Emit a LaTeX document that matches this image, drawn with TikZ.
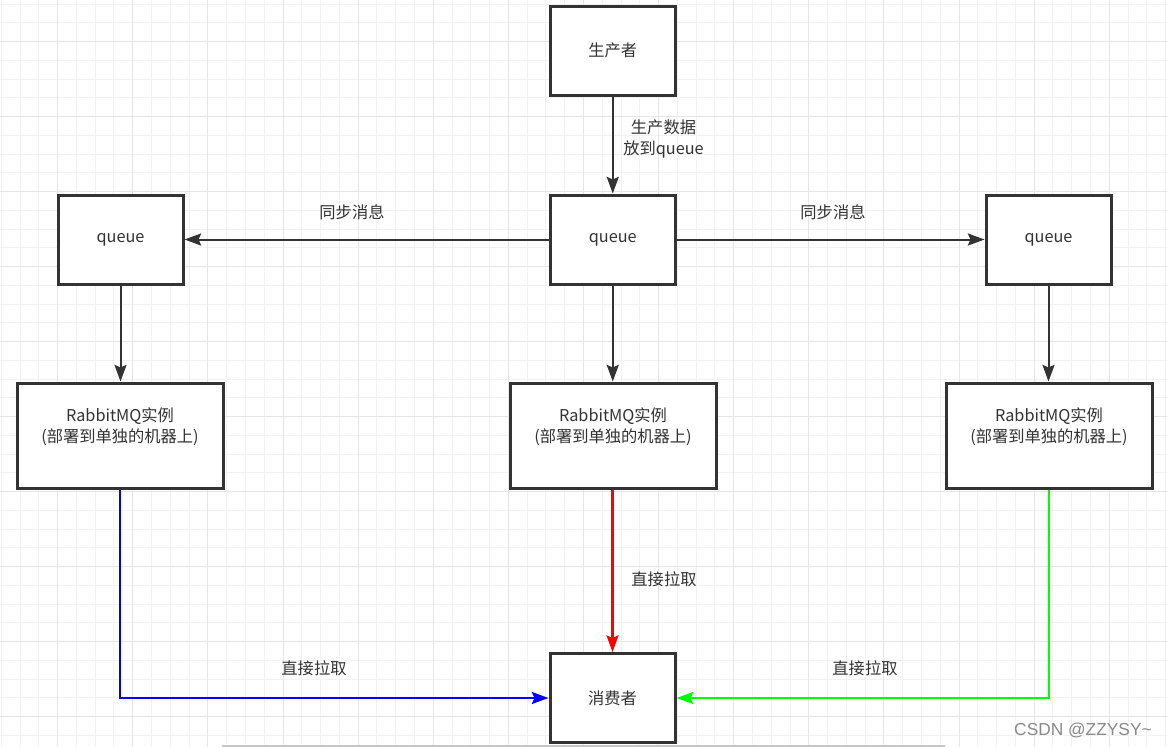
\documentclass[tikz,border=0pt]{standalone}
\usepackage{fontspec}
\newfontfamily\cjk{Noto Sans CJK SC}
\newfontfamily\wmfont{Liberation Sans}
\usetikzlibrary{arrows.meta}
\definecolor{ink}{HTML}{333333}
\definecolor{gminor}{HTML}{F2F2F2}
\definecolor{gmajor}{HTML}{E6E6E6}
\definecolor{wmgray}{HTML}{8A8A8A}
\definecolor{barg}{HTML}{C6C6C6}
\definecolor{pullblue}{HTML}{0000FF}
\definecolor{pullred}{HTML}{FF0000}
\definecolor{pullgreen}{HTML}{00FF00}
\begin{document}
\begin{tikzpicture}[x=0.75pt,y=-0.75pt,
  box/.style={draw=ink, line width=2.25pt, fill=white, minimum width=93.75pt, minimum height=66.75pt, inner sep=0pt, font=\cjk\fontsize{12.2}{15}\selectfont, text=ink, align=center},
  rbox/.style={box, minimum width=154.5pt, minimum height=78.75pt},
  lbl/.style={font=\cjk\fontsize{12.2}{16}\selectfont, text=ink, align=center, inner sep=0pt},
  conn/.style={draw=ink, line width=1.5pt, -{Stealth[length=12.5pt,width=9pt,inset=2pt]}},
  pull/.style={line width=1.6pt, -{Stealth[length=12.5pt,width=9pt,inset=2pt]}},
]
\useasboundingbox (0,0) rectangle (1167,747);
\fill[white] (0,0) rectangle (1167,747);
% grid
\foreach \k in {0,...,62} {\draw[gminor, line width=0.75pt] ({1.3+18.78*\k},0) -- ({1.3+18.78*\k},747);}
\foreach \k in {0,...,39} {\draw[gminor, line width=0.75pt] (0,{4.2+18.75*\k}) -- (1167,{4.2+18.75*\k});}
\foreach \k in {3,7,...,59} {\draw[gmajor, line width=0.75pt] ({1.3+18.78*\k},0) -- ({1.3+18.78*\k},747);}
\foreach \k in {2,6,...,38} {\draw[gmajor, line width=0.75pt] (0,{4.2+18.75*\k}) -- (1167,{4.2+18.75*\k});}

% boxes
\node[box] (prod) at (612.75,50.5) {生产者};
\node[box] (qc) at (612.75,239.5) {queue};
\node[box] (ql) at (120.5,239.5) {queue};
\node[box] (qr) at (1048.5,239.5) {queue};
\node[rbox] (rl) at (120,435.5) {};
\node[rbox] (rc) at (613,435.5) {};
\node[rbox] (rr) at (1049,435.5) {};
\node[box] (cons) at (612.5,698) {消费者};
\node[lbl] (rlt) at (120,427) {RabbitMQ实例\\(部署到单独的机器上)};
\node[lbl] (rct) at (613,427) {RabbitMQ实例\\(部署到单独的机器上)};
\node[lbl] (rrt) at (1049,427) {RabbitMQ实例\\(部署到单独的机器上)};

% connectors
\draw[conn] (prod.south) -- (qc.north);
\draw[conn] (qc.west) -- (ql.east);
\draw[conn] (qc.east) -- (qr.west);
\draw[conn] (ql.south) -- (rl.north -| ql.south);
\draw[conn] (qc.south) -- (rc.north -| qc.south);
\draw[conn] (qr.south) -- (rr.north -| qr.south);
\draw[pull, pullblue] (rl.south) |- (cons.west);
\draw[pull, pullred] (rc.south -| cons.north) -- (cons.north);
\draw[pull, pullgreen] (rr.south) |- (cons.east);

% labels
\node[lbl] (l1) at (663.5,139) {生产数据\\放到queue};
\node[lbl] (l2) at (352,212) {同步消息};
\node[lbl] (l3) at (833,212) {同步消息};
\node[lbl] (l4) at (664,579) {直接拉取};
\node[lbl] (l5) at (314,668) {直接拉取};
\node[lbl] (l6) at (865,668) {直接拉取};

% watermark and scrollbar
\node[font=\wmfont\fontsize{13}{13}\selectfont, text=wmgray, anchor=east, inner sep=0pt] (wm) at (1152,730) {CSDN @ZZYSY\textasciitilde};
\fill[barg] (222,744.5) rectangle (945,747);
\end{tikzpicture}
\end{document}
